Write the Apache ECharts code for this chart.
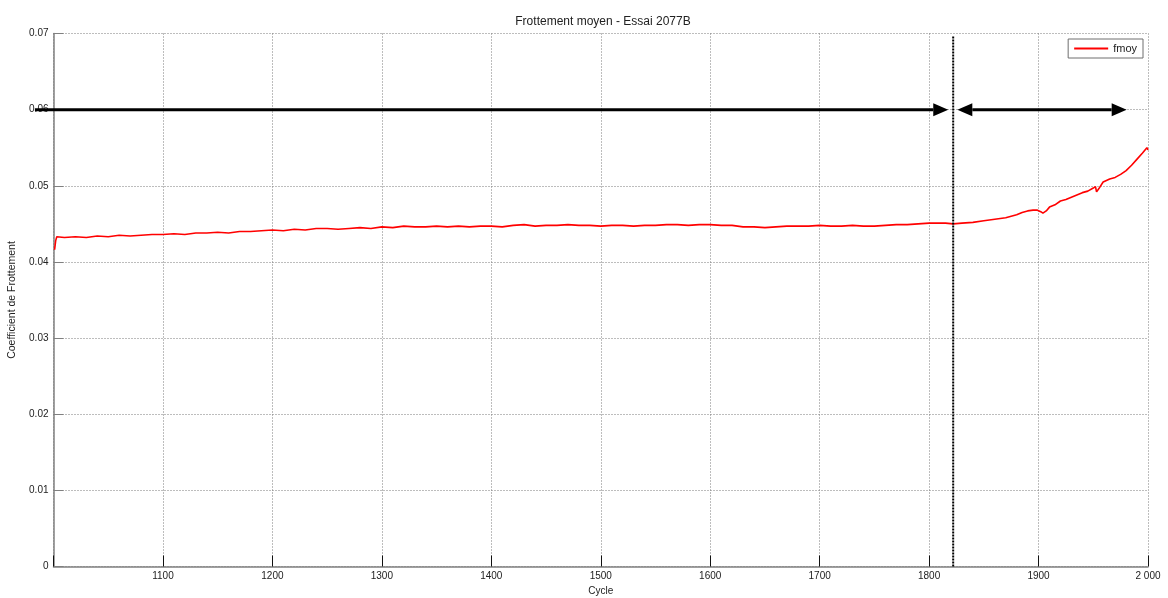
<!DOCTYPE html>
<html>
<head>
<meta charset="utf-8">
<script src="https://cdn.jsdelivr.net/npm/echarts@6/dist/echarts.min.js"></script>
<style>
  html, body { margin: 0; padding: 0; background: #fff; }
  #chart { width: 1168px; height: 598px; }
</style>
</head>
<body>
<div id="chart"></div>
<script>
// ---- data ----
const cycles = [1001,1002,1003,1010,1020,1030,1040,1050,1060,1070,1080,1090,1100,1110,1120,1130,1140,1150,1160,1170,1180,1190,
  1200,1210,1220,1230,1240,1250,1260,1270,1280,1290,1300,1310,1320,1330,1340,1350,1360,1370,1380,1390,
  1400,1410,1420,1430,1440,1450,1460,1470,1480,1490,1500,1510,1520,1530,1540,1550,1560,1570,1580,1590,
  1600,1610,1620,1630,1640,1650,1660,1670,1680,1690,1700,1710,1720,1730,1740,1750,1760,1770,1780,1790,
  1800,1810,1815,1822,1830,1840,1850,1860,1870,1880,1885,1890,1895,1899,1902,1904,1907,1910,1915,1920,
  1925,1930,1935,1940,1945,1950,1952,1953,1955,1959,1965,1970,1975,1980,1985,1990,1995,1999,2000];
const fmoy = [0.0416,0.0428,0.0433,0.0432,0.0433,0.0432,0.0434,0.0433,0.0435,0.0434,0.0435,0.0436,0.0436,0.0437,0.0436,0.0438,0.0438,0.0439,0.0438,0.0440,0.0440,0.0441,
  0.0442,0.0441,0.0443,0.0442,0.0444,0.0444,0.0443,0.0444,0.0445,0.0444,0.0446,0.0445,0.0447,0.0446,0.0446,0.0447,0.0446,0.0447,0.0446,0.0447,
  0.0447,0.0446,0.0448,0.0449,0.0447,0.0448,0.0448,0.0449,0.0448,0.0448,0.0447,0.0448,0.0448,0.0447,0.0448,0.0448,0.0449,0.0449,0.0448,0.0449,
  0.0449,0.0448,0.0448,0.0446,0.0446,0.0445,0.0446,0.0447,0.0447,0.0447,0.0448,0.0447,0.0447,0.0448,0.0447,0.0447,0.0448,0.0449,0.0449,0.0450,
  0.0451,0.0451,0.0451,0.0450,0.0451,0.0452,0.0454,0.0456,0.0458,0.0462,0.0465,0.0467,0.0468,0.0468,0.0466,0.0464,0.0467,0.0472,0.0475,0.0480,
  0.0482,0.0485,0.0488,0.0491,0.0493,0.0497,0.0499,0.0492,0.0496,0.0505,0.0509,0.0511,0.0515,0.0520,0.0527,0.0535,0.0543,0.0550,0.0547];

const xTicks = [1000, 2000, 100];        // min, max, interval
const yTicks = [0, 0.07, 0.01];          // min, max, interval
// annotation arrows: [startCycle, endCycle, level, headAtStart, headAtEnd]
const arrows = [[983, 1817.5, 0.06, 0, 1], [1825.8, 1980.5, 0.06, 1, 1]];
// vertical separator: [cycle, yFrom, yTo]
const separator = [[1822, 0, 0.0696]];

const FONT = "'Liberation Sans', Arial, sans-serif";
const chart = echarts.init(document.getElementById('chart'), null, { renderer: 'canvas' });

const series = [
  {
    name: 'fmoy',
    type: 'line',
    data: cycles.map((c, i) => [c, fmoy[i]]),
    symbol: 'none',
    showSymbol: false,
    lineStyle: { color: '#ff0000', width: 1.6 },
    itemStyle: { color: '#ff0000' },
    z: 3,
    animation: false
  },
  {
    type: 'custom',
    data: arrows,
    clip: false,
    z: 5,
    silent: true,
    animation: false,
    renderItem: function (params, api) {
      const p0 = api.coord([api.value(0), api.value(2)]);
      const p1 = api.coord([api.value(1), api.value(2)]);
      const hs = api.value(3), he = api.value(4);
      const L = 15, W = 6.5;
      const children = [];
      const x0 = hs ? p0[0] + L : p0[0];
      const x1 = he ? p1[0] - L : p1[0];
      children.push({ type: 'line', shape: { x1: x0, y1: p0[1], x2: x1, y2: p1[1] },
        style: { stroke: '#000', lineWidth: 3 } });
      if (he) children.push({ type: 'polygon', shape: { points: [[p1[0], p1[1]], [p1[0] - L, p1[1] - W], [p1[0] - L, p1[1] + W]] },
        style: { fill: '#000' } });
      if (hs) children.push({ type: 'polygon', shape: { points: [[p0[0], p0[1]], [p0[0] + L, p0[1] - W], [p0[0] + L, p0[1] + W]] },
        style: { fill: '#000' } });
      return { type: 'group', children: children };
    }
  },
  {
    type: 'custom',
    data: separator,
    clip: false,
    z: 6,
    silent: true,
    animation: false,
    renderItem: function (params, api) {
      const a = api.coord([api.value(0), api.value(1)]);
      const b = api.coord([api.value(0), api.value(2)]);
      return { type: 'line', shape: { x1: a[0], y1: a[1], x2: b[0], y2: b[1] },
        style: { stroke: '#000', lineWidth: 2, lineDash: [2, 1] } };
    }
  }
];

const gridLine = { show: true, lineStyle: { color: '#7a7a7a', width: 1, type: [1, 2] } };

chart.setOption({
  animation: false,
  backgroundColor: '#fff',
  textStyle: { fontFamily: FONT },
  title: {
    text: 'Frottement moyen - Essai 2077B',
    left: 598, top: 11, textAlign: 'center',
    textStyle: { fontFamily: FONT, fontSize: 12, fontWeight: 'normal', color: '#222' }
  },
  legend: {
    data: ['fmoy'],
    right: 25, top: 39,
    backgroundColor: '#fff',
    borderColor: '#6e6e6e', borderWidth: 1, borderRadius: 0,
    padding: [4, 6, 4, 6],
    icon: 'rect',
    itemWidth: 34, itemHeight: 2,
    textStyle: { fontFamily: FONT, fontSize: 11, color: '#222' }
  },
  grid: { left: 53.5, right: 20, top: 33.5, bottom: 31.5, containLabel: false, outerBoundsMode: 'none' },
  xAxis: {
    type: 'value',
    min: xTicks[0], max: xTicks[1], interval: xTicks[2],
    name: 'Cycle', nameLocation: 'middle', nameGap: 19,
    nameTextStyle: { fontFamily: FONT, fontSize: 10, color: '#222' },
    axisLine: { show: true, onZero: false, lineStyle: { color: '#808080', width: 1.5 } },
    axisTick: { show: true, inside: true, length: 11, lineStyle: { color: '#111', width: 1 } },
    axisLabel: {
      fontFamily: FONT, fontSize: 10, color: '#222', margin: 5,
      formatter: function (v) { return v === xTicks[0] ? '' : (v === 2000 ? '2 000' : String(v)); }
    },
    splitLine: gridLine
  },
  yAxis: {
    type: 'value',
    min: yTicks[0], max: yTicks[1], interval: yTicks[2],
    name: 'Coefficient de Frottement', nameLocation: 'middle', nameGap: 36,
    nameTextStyle: { fontFamily: FONT, fontSize: 10.5, color: '#222' },
    axisLine: { show: true, onZero: false, lineStyle: { color: '#808080', width: 1.5 } },
    axisTick: { show: true, inside: true, length: 10, lineStyle: { color: '#808080', width: 1 } },
    axisLabel: {
      fontFamily: FONT, fontSize: 10, color: '#222', margin: 5,
      formatter: function (v) { return v === 0 ? '0' : v.toFixed(2); }
    },
    splitLine: gridLine
  },
  series: series
});
</script>
</body>
</html>
